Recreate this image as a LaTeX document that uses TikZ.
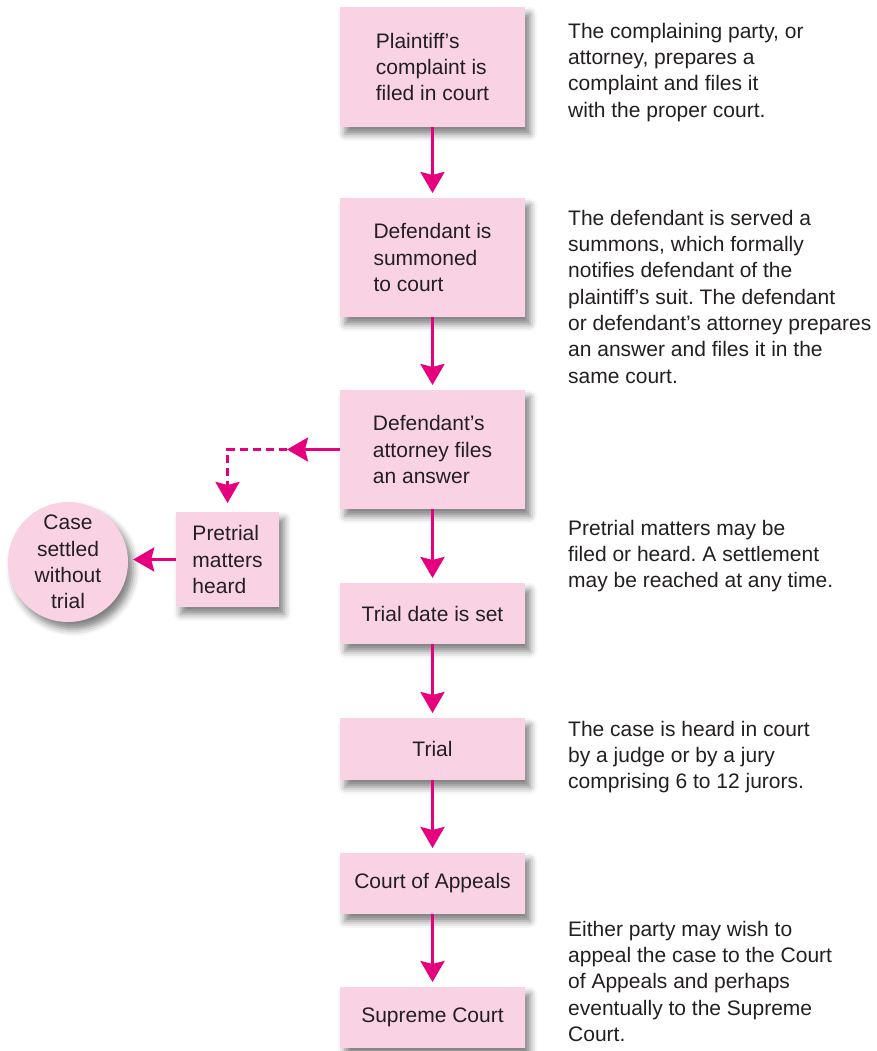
\documentclass[tikz,border=0pt]{standalone}
\usepackage{fontspec}
\setmainfont{Liberation Sans}
\usetikzlibrary{arrows.meta,shadows.blur}

\definecolor{boxpink}{HTML}{F9D3E4}
\definecolor{arrowpink}{HTML}{E6007E}
\definecolor{ink}{HTML}{231F20}

\begin{document}
\frenchspacing
\begin{tikzpicture}[x=1pt,y=-1pt,
  every node/.style={text=ink, font=\fontsize{21}{26.3}\selectfont},
  softshadow/.style={blur shadow={shadow xshift=5pt, shadow yshift=-7pt,
      shadow blur radius=7pt, shadow opacity=50}},
  stage/.style={fill=boxpink, minimum width=185pt, inner sep=0pt,
      outer sep=0pt, align=left, softshadow},
  note/.style={anchor=north west, inner sep=0pt, align=left},
  arr/.style={draw=arrowpink, line width=3pt,
      -{Stealth[length=21pt, width=24pt, inset=3pt]}, shorten >=5pt},
  dasharr/.style={arr, dash pattern=on 8pt off 5pt}]

\useasboundingbox (0,0) rectangle (877,1051);

% main column of stages
\node[stage, minimum height=120pt] (s1) at (432.5,67)    {Plaintiff’s\\complaint is\\filed in court};
\node[stage, minimum height=119pt] (s2) at (432.5,257.5) {Defendant is\\summoned\\to court};
\node[stage, minimum height=119pt] (s3) at (432.5,449.5) {Defendant’s\\attorney files\\an answer};
\node[stage, minimum height=61pt]  (s4) at (432.5,613.5) {Trial date is set};
\node[stage, minimum height=62pt]  (s5) at (432.5,749)   {Trial};
\node[stage, minimum height=61pt]  (s6) at (432.5,883.5) {Court of Appeals};
\node[stage, minimum height=61pt]  (s7) at (432.5,1017.5){Supreme Court};

% side branch
\node[stage, minimum width=103pt, minimum height=95pt] (pre) at (227.5,559.5) {Pretrial\\matters\\heard};
\node[circle, fill=boxpink, minimum size=120pt, inner sep=0pt, align=center,
      softshadow] (settle) at (68,562) {Case\\settled\\without\\trial};

% explanations
\node[note] (n1) at (568,19.6)  {\strut The complaining party, or\\attorney, prepares a\\complaint and files it\\with the proper court.};
\node[note] (n2) at (568,206.6) {\strut The defendant is served a\\summons, which formally\\notifies defendant of the\\plaintiff’s suit. The defendant\\or defendant’s attorney prepares\\an answer and files it in the\\same court.};
\node[note] (n3) at (568,516.6) {\strut Pretrial matters may be\\filed or heard. A settlement\\may be reached at any time.};
\node[note] (n4) at (568,717.6) {\strut The case is heard in court\\by a judge or by a jury\\comprising 6 to 12 jurors.};
\node[note] (n5) at (568,917.6) {\strut Either party may wish to\\appeal the case to the Court\\of Appeals and perhaps\\eventually to the Supreme\\Court.};

% connectors
\draw[arr] (s1) -- (s2);
\draw[arr] (s2) -- (s3);
\draw[arr] (s3) -- (s4);
\draw[arr] (s4) -- (s5);
\draw[arr] (s5) -- (s6);
\draw[arr] (s6) -- (s7);

\coordinate (fork) at (287,449.5);
\draw[arr, shorten >=0pt] (s3.west) -- (fork);
\draw[dasharr, shorten >=9pt] (fork) -| (pre.north);
\draw[arr] (pre.west) -- (pre.west -| settle.east);
\end{tikzpicture}
\end{document}
